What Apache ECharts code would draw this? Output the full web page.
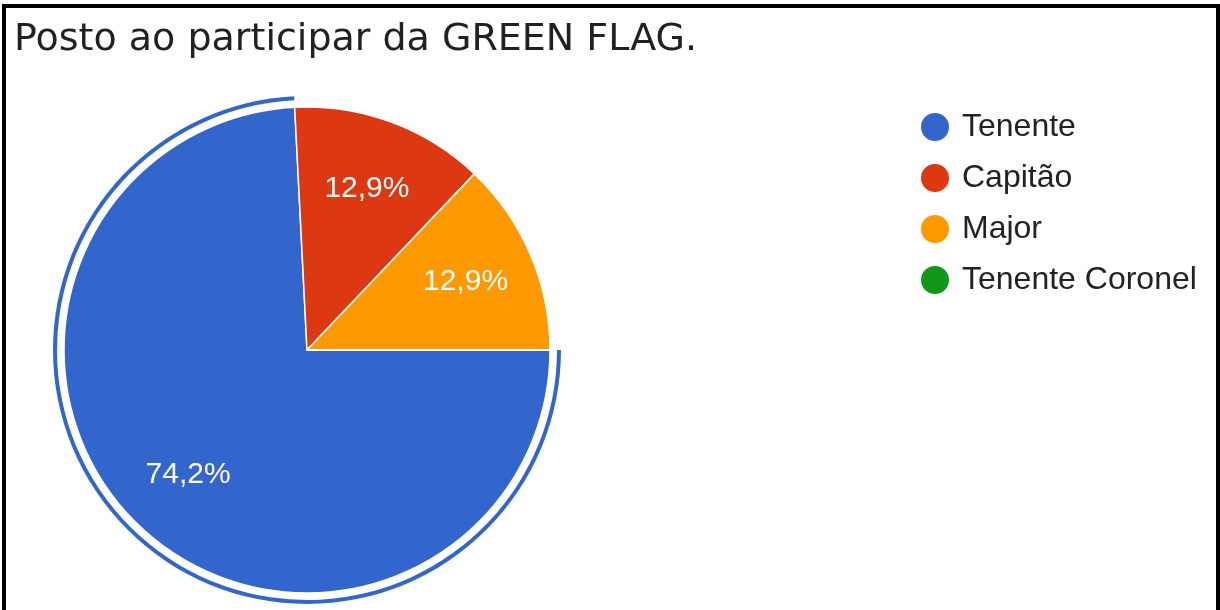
<!DOCTYPE html>
<html>
<head>
<meta charset="utf-8">
<script src="https://cdn.jsdelivr.net/npm/echarts@6/dist/echarts.min.js"></script>
<style>
  html, body { margin: 0; padding: 0; background: #fff; }
  #chart { position: absolute; left: 0; top: 0; width: 1220px; height: 610px; }
  #frame {
    position: absolute; left: 2px; top: 4px; right: 0; bottom: -4px;
    border: 4px solid #000; pointer-events: none;
  }
</style>
</head>
<body>
<div id="chart"></div>
<div id="frame"></div>
<script>
// respostas por posto (31 no total)
const postos = ['Tenente', 'Capitão', 'Major', 'Tenente Coronel'];
const respostas = [23, 4, 4, 0];
const cores = ['#3366cc', '#dc3912', '#ff9900', '#109618'];

const center = [307, 350];
const raio = 243;

function dados(transp) {
  return postos.map(function (nome, i) {
    return {
      name: nome,
      value: respostas[i],
      itemStyle: { color: transp ? 'rgba(0,0,0,0)' : cores[i] }
    };
  });
}

const chart = echarts.init(document.getElementById('chart'));

chart.setOption({
  animation: false,
  color: cores,
  title: {
    text: 'Posto ao participar da GREEN FLAG.',
    left: 9,
    top: 15,
    textStyle: {
      fontFamily: '"DejaVu Sans"',
      fontSize: 38,
      fontWeight: 'normal',
      color: '#212121',
      lineHeight: 40
    }
  },
  legend: {
    orient: 'vertical',
    left: 914,
    top: 106,
    itemWidth: 30,
    itemHeight: 30,
    itemGap: 19,
    icon: 'circle',
    selectedMode: false,
    data: postos,
    textStyle: {
      fontFamily: '"Liberation Sans", Arial',
      fontSize: 32,
      color: '#222',
      padding: [0, 0, 0, 7]
    }
  },
  series: [
    {
      // fatias
      type: 'pie',
      center: center,
      radius: [0, raio],
      startAngle: 0,
      clockwise: true,
      silent: true,
      label: { show: false },
      labelLine: { show: false },
      itemStyle: { borderColor: '#fff', borderWidth: 1.5 },
      data: dados(false)
    },
    {
      // anel de destaque do Tenente
      type: 'pie',
      center: center,
      radius: [raio + 7, raio + 11],
      startAngle: 0,
      clockwise: true,
      silent: true,
      label: { show: false },
      labelLine: { show: false },
      data: postos.map(function (nome, i) {
        return {
          name: nome,
          value: respostas[i],
          itemStyle: { color: i === 0 ? cores[0] : 'rgba(0,0,0,0)' }
        };
      })
    },
    {
      // rótulos de porcentagem
      type: 'pie',
      center: center,
      radius: [96, raio],
      startAngle: 0,
      clockwise: true,
      silent: true,
      percentPrecision: 1,
      labelLine: { show: false },
      label: {
        show: true,
        position: 'inside',
        color: '#fff',
        fontFamily: '"Liberation Sans", Arial',
        fontSize: 30,
        formatter: function (p) {
          if (!p.value) return '';
          return p.percent.toFixed(1).replace('.', ',') + '%';
        }
      },
      data: dados(true)
    }
  ]
});
</script>
</body>
</html>
